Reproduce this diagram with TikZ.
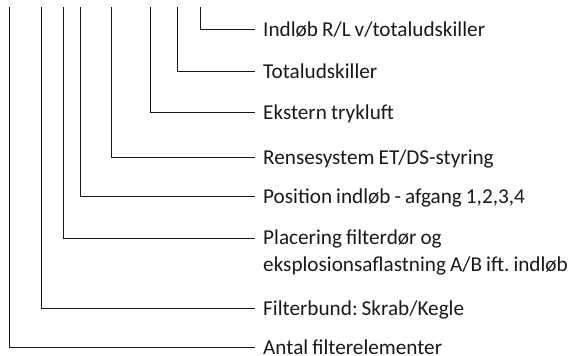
\documentclass[tikz,border=0pt]{standalone}
\usepackage{fontspec}
\setmainfont[WordSpace=0.85]{Carlito}
\frenchspacing
\begin{document}
\begin{tikzpicture}[x=1pt,y=-1pt,
  lead/.style={draw=black!90, line width=0.9pt},
  lab/.style={anchor=west, inner xsep=8pt, inner ysep=0pt, font=\fontsize{21.2}{27}\selectfont, text=black!90, text height=14pt, text depth=0pt},
  lab2/.style={anchor=north west, inner xsep=8pt, inner ysep=0pt, font=\fontsize{21.2}{27}\selectfont, text=black!90, align=left}]
\useasboundingbox (0,0) rectangle (571,356);
% label nodes
\node[lab] (t1) at (255,29) {Indløb R/L v/totaludskiller};
\node[lab] (t2) at (255,71) {Totaludskiller};
\node[lab] (t3) at (255,112) {Ekstern trykluft};
\node[lab] (t4) at (255,157) {Rensesystem ET/DS-styring};
\node[lab] (t5) at (255,196) {Position indløb - afgang 1,2,3,4};
\node[lab2] (t6) at (255,230) {Placering filterdør og\\eksplosionsaflastning A/B ift. indløb};
\coordinate (e6) at (255,238);
\node[lab] (t7) at (255,308) {Filterbund: Skrab/Kegle};
\node[lab] (t8) at (255,347) {Antal filterelementer};
% leader starts
\coordinate (s1) at (200,7);
\coordinate (s2) at (177,7);
\coordinate (s3) at (150,7);
\coordinate (s4) at (111,7);
\coordinate (s5) at (80,7);
\coordinate (s6) at (63,7);
\coordinate (s7) at (41,7);
\coordinate (s8) at (9,7);
\draw[lead] (s1) |- (t1.west);
\draw[lead] (s2) |- (t2.west);
\draw[lead] (s3) |- (t3.west);
\draw[lead] (s4) |- (t4.west);
\draw[lead] (s5) |- (t5.west);
\draw[lead] (s6) |- (e6);
\draw[lead] (s7) |- (t7.west);
\draw[lead] (s8) |- (t8.west);
\end{tikzpicture}
\end{document}
